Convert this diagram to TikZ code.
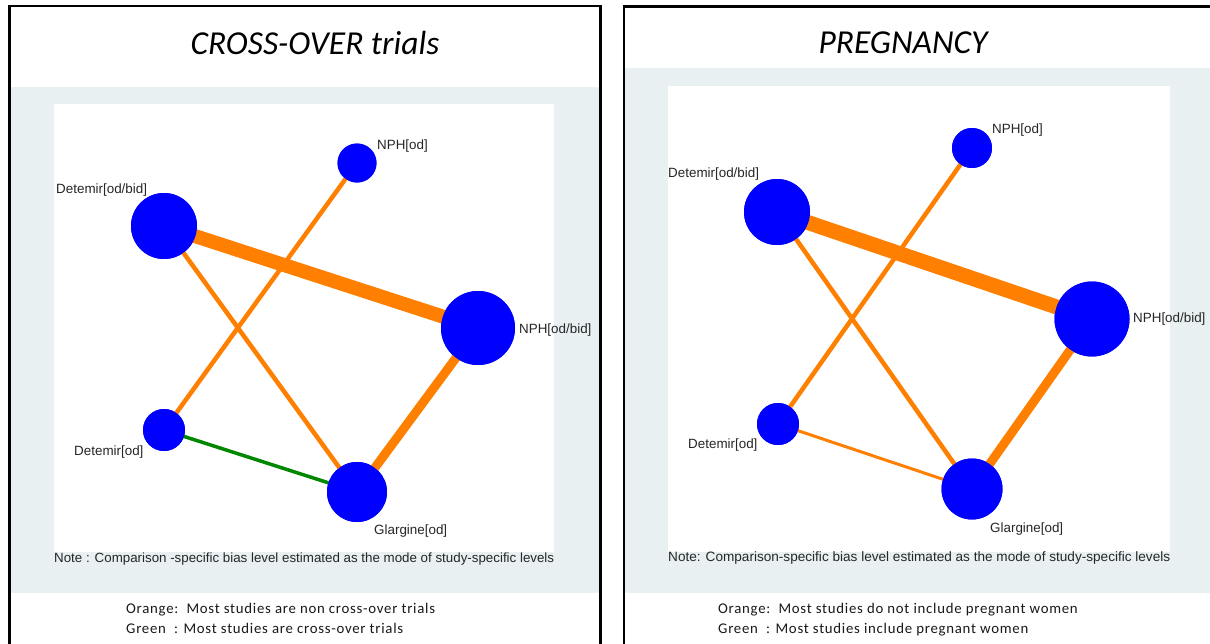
\documentclass[tikz,border=0pt]{standalone}
\usepackage{fontspec}
\setmainfont{Liberation Sans}
\newfontfamily\calibri{Carlito}
\newfontfamily\calibriwide[LetterSpace=5]{Carlito}
\definecolor{netorange}{RGB}{255,128,0}
\definecolor{netblue}{RGB}{0,0,255}
\definecolor{netgreen}{RGB}{0,135,0}
\definecolor{bandgray}{RGB}{232,240,242}
\tikzset{
  panelframe/.style={draw=black, line width=2.4pt},
  band/.style={fill=bandgray, draw=none},
  plotarea/.style={fill=white, draw=none},
  trt/.style={circle, fill=netblue, draw=none, inner sep=0pt, minimum size=#1},
  lbl/.style={anchor=west, inner sep=0pt, font=\fontsize{13.4}{13.4}\selectfont, text=black!85},
  edgeo/.style={draw=netorange, line width=#1},
  edgeg/.style={draw=netgreen, line width=#1},
  ttl/.style={font=\calibri\itshape\fontsize{33.5}{33.5}\selectfont, inner sep=0pt},
  note/.style={anchor=west, inner sep=0pt, font=\fontsize{12}{12}\selectfont, text=black!85},
  legend/.style={anchor=north west, inner sep=0pt, align=left, font=\calibriwide\fontsize{14.8}{20}\selectfont, text=black!90}
}
\begin{document}
\begin{tikzpicture}[x=1pt, y=-1pt]
\useasboundingbox (0,0) rectangle (1210,643);
\fill[white] (0,0) rectangle (1210,643);

% ---------------- left panel: cross-over trials ----------------
\fill[band] (10,87) rectangle (600,593);
\fill[plotarea] (54,103.5) rectangle (554,552);
\draw[panelframe] (9.5,650) -- (9.5,6) -- (600.5,6) -- (600.5,650);
\node[ttl] (lt) at (315,43) {CROSS-OVER trials};

\node[trt=66pt] (ldb) at (164,226) {};
\node[trt=39pt] (lno) at (357,163) {};
\node[trt=74pt] (lnb) at (478,328) {};
\node[trt=42pt] (ldo) at (164,430) {};
\node[trt=60pt] (lgl) at (357,492) {};

\node[lbl] (ldbl) at (56,190) {Detemir[od/bid]};
\node[lbl] (lnol) at (377,146) {NPH[od]};
\node[lbl] (lnbl) at (519,330) {NPH[od/bid]};
\node[lbl] (ldol) at (74,452) {Detemir[od]};
\node[lbl] (lgll) at (374,531) {Glargine[od]};

\node[note] (ln) at (54,559) {\resizebox{500pt}{!}{Note : Comparison -specific bias level estimated as the mode of study-specific levels}};
\node[legend] (lleg) at (126,603) {Orange:\ \ Most studies are non cross-over trials\\Green\ \ : Most studies are cross-over trials};

% ---------------- right panel: pregnancy ----------------
\fill[band] (625,68) rectangle (1210,593);
\fill[plotarea] (668,86) rectangle (1170,552);
\draw[panelframe] (624,650) -- (624,6.5) -- (1215,6.5);
\node[ttl] (rt) at (903,43) {PREGNANCY};

\node[trt=66pt] (rdb) at (777,212) {};
\node[trt=40pt] (rno) at (972,148) {};
\node[trt=75pt] (rnb) at (1092,319) {};
\node[trt=42pt] (rdo) at (778,424) {};
\node[trt=61pt] (rgl) at (972,489) {};

\node[lbl] (rdbl) at (668,174) {Detemir[od/bid]};
\node[lbl] (rnol) at (992,130) {NPH[od]};
\node[lbl] (rnbl) at (1133,319) {NPH[od/bid]};
\node[lbl] (rdol) at (688,445) {Detemir[od]};
\node[lbl] (rgll) at (990,529) {Glargine[od]};

\node[note] (rn) at (668,558) {\resizebox{502pt}{!}{Note: Comparison-specific bias level estimated as the mode of study-specific levels}};
\node[legend] (rleg) at (718,603) {Orange:\ \ Most studies do not include pregnant women\\Green\ \ : Most studies include pregnant women};

% ---------------- comparisons (drawn under the treatment discs) ----------------
\draw[edgeo=14pt] (ldb.center) -- (lnb.center);
\draw[edgeo=4.5pt] (lno.center) -- (ldo.center);
\draw[edgeo=4.5pt] (ldb.center) -- (lgl.center);
\draw[edgeo=9pt] (lnb.center) -- (lgl.center);
\draw[edgeg=3.5pt] (ldo.center) -- (lgl.center);

\draw[edgeo=15pt] (rdb.center) -- (rnb.center);
\draw[edgeo=4.5pt] (rno.center) -- (rdo.center);
\draw[edgeo=4.5pt] (rdb.center) -- (rgl.center);
\draw[edgeo=9pt] (rnb.center) -- (rgl.center);
\draw[edgeo=3pt] (rdo.center) -- (rgl.center);

% discs painted again on top of the comparison lines
\foreach \n/\s in {ldb/66,lno/39,lnb/74,ldo/42,lgl/60,rdb/66,rno/40,rnb/75,rdo/42,rgl/61}
  \fill[netblue] (\n.center) circle (\s/2);
\end{tikzpicture}
\end{document}
